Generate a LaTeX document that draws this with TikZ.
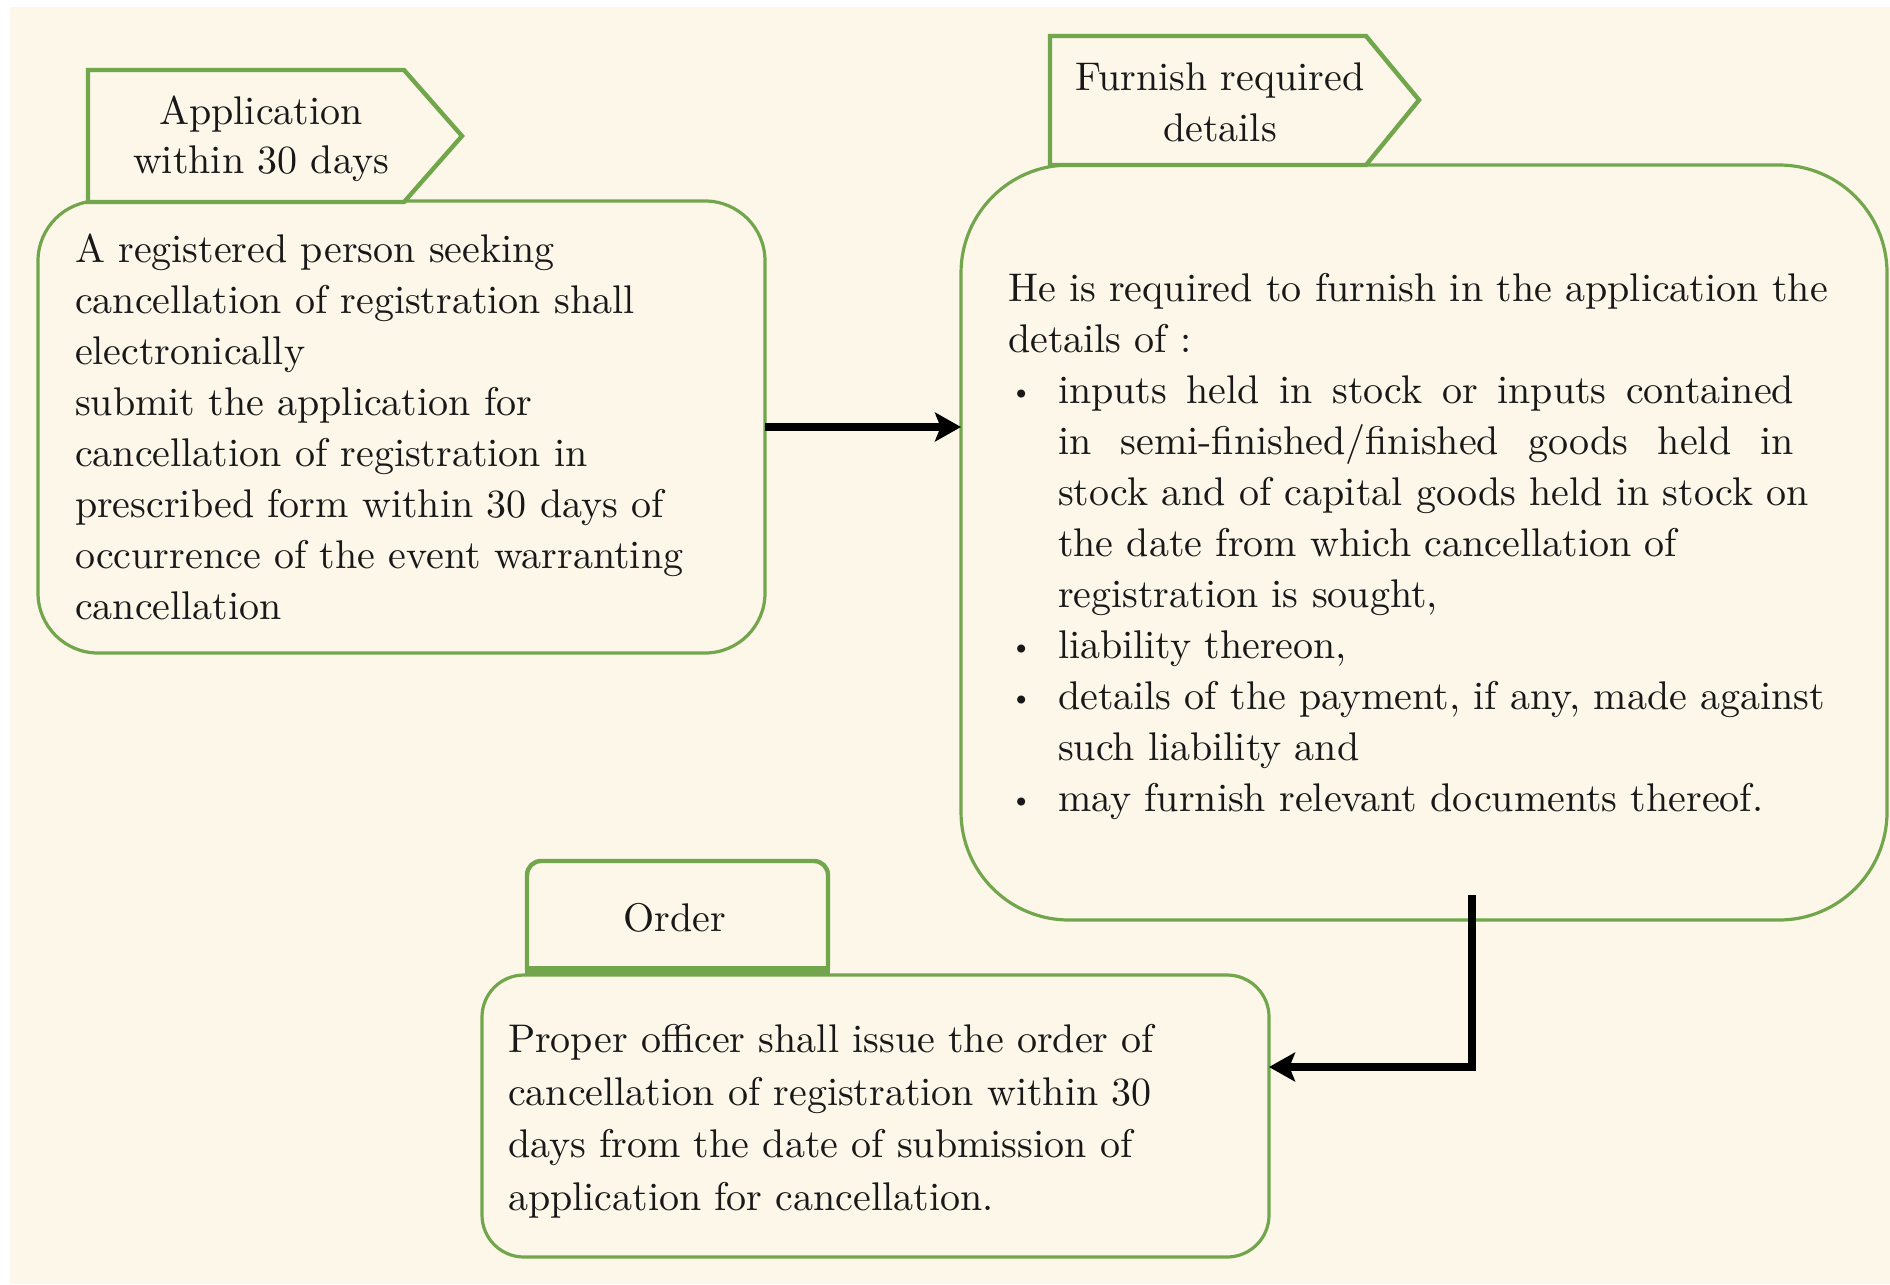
\documentclass[tikz,border=0pt]{standalone}
\usepackage{fontspec}
\usepackage{graphicx}
\usetikzlibrary{arrows.meta,calc}

\definecolor{paper}{RGB}{253,247,234}
\definecolor{leaf}{RGB}{114,166,76}
\definecolor{ink}{RGB}{24,24,24}

% bullet lines and their continuation lines inside the details box
\newcommand\bulletline[1]{\makebox[12.5pt][l]{\hspace{0.6pt}\raisebox{0.7pt}{\scalebox{0.7}{\textbullet}}}#1}
\newcommand\contline[1]{\hspace*{12.5pt}#1}

\tikzset{
  card/.style={draw=leaf, line width=0.8pt, fill=paper, rectangle, inner sep=0pt, outer sep=0pt},
  tagline/.style={draw=leaf, line width=1.1pt, fill=paper, line join=miter},
  body/.style={inner sep=0pt, outer sep=0pt, align=left, anchor=north west, text=ink},
  tagtext/.style={inner sep=0pt, outer sep=0pt, align=center, anchor=north, text=ink},
  flow/.style={line width=2pt, draw=black, -{Stealth[length=6.5pt,width=7.2pt,inset=1.4pt]}},
}

\begin{document}
\begin{tikzpicture}[x=0.25pt, y=-0.25pt]
  % page
  \fill[white] (0,0) rectangle (1890,1284);
  \fill[paper] (10,7) rectangle (1890,1284);
  \useasboundingbox (0,0) rectangle (1890,1284);

  % step 1: application
  \node[card, rounded corners=15pt, minimum width=181.75pt, minimum height=113pt] (apply) at (401.5,427) {};
  \draw[tagline] (88,202) -- (88,70) -- (404,70) -- (462,136) -- (404,202) -- cycle;
  \node[tagtext, font=\fontsize{10}{12.25}\selectfont] (applytag) at (261,96) {Application\\within 30 days};
  \node[body, font=\fontsize{10}{12.75}\selectfont] (applytext) at (75,234)
    {A registered person seeking\\
     cancellation of registration shall\\
     electronically\\
     submit the application for\\
     cancellation of registration in\\
     prescribed form within 30 days of\\
     occurrence of the event warranting\\
     cancellation};

  % step 2: details to furnish
  \node[card, rounded corners=27pt, minimum width=231.5pt, minimum height=188.75pt] (furnish) at (1424,542.5) {};
  \draw[tagline] (1050,165) -- (1050,36) -- (1366,36) -- (1419,100) -- (1366,165) -- cycle;
  \node[tagtext, font=\fontsize{10}{12.75}\selectfont] (furnishtag) at (1220,63) {Furnish required\\details};
  \node[body, font=\fontsize{10}{12.75}\selectfont] (furnishtext) at (1008,273)
    {He is required to furnish in the application the\\
     details of :\\
     \bulletline{\makebox[184pt][s]{inputs held in stock or inputs contained}}\\
     \contline{\makebox[184pt][s]{in semi-finished/finished goods held in}}\\
     \contline{stock and of capital goods held in stock on}\\
     \contline{the date from which cancellation of}\\
     \contline{registration is sought,}\\
     \bulletline{liability thereon,}\\
     \bulletline{details of the payment, if any, made against}\\
     \contline{such liability and}\\
     \bulletline{may furnish relevant documents thereof.}};

  % step 3: order
  \node[card, rounded corners=10.5pt, minimum width=196.75pt, minimum height=70.5pt] (order) at (875.5,1116) {};
  \filldraw[tagline, rounded corners=3.5pt] (527,970) -- (527,861) -- (828,861) -- (828,970);
  \draw[leaf, line width=2.2pt] (525,970) -- (830,970);
  \node[tagtext, font=\fontsize{10}{12.75}\selectfont] (ordertag) at (675,903) {Order};
  \node[body, font=\fontsize{10}{13.2}\selectfont] (ordertext) at (508,1024)
    {Proper officer shall issue the order of\\
     cancellation of registration within 30\\
     days from the date of submission of\\
     application for cancellation.};

  % connectors
  \draw[flow] (apply.east) -- (apply.east -| furnish.west);
  \coordinate (drop) at (1472,895);
  \draw[flow] (drop) |- ($(order.east)+(0,-49)$);
\end{tikzpicture}
\end{document}
